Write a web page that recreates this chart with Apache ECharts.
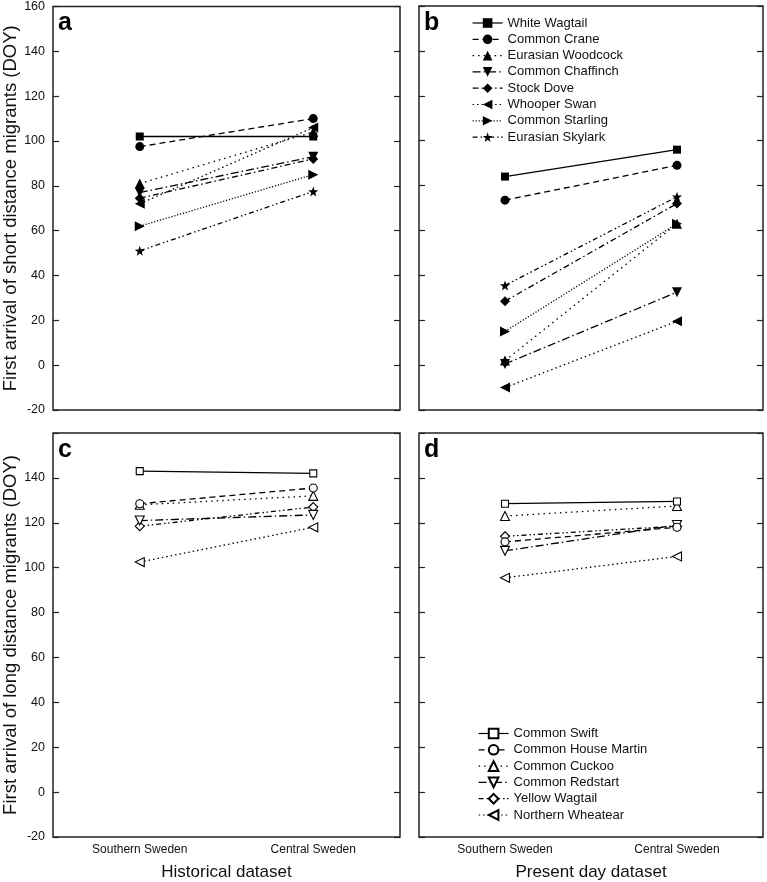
<!DOCTYPE html>
<html>
<head>
<meta charset="utf-8">
<script src="https://cdn.jsdelivr.net/npm/echarts@6/dist/echarts.min.js"></script>
<style>
html,body{margin:0;padding:0;background:#fff;}
#chart{width:767px;height:882px;}
</style>
</head>
<body>
<div id="chart"></div>
<script>
// ---- data ----
const categories = ['Southern Sweden', 'Central Sweden'];
const yTicks = [-20, 0, 20, 40, 60, 80, 100, 120, 140, 160];

const shortNames = ['White Wagtail', 'Common Crane', 'Eurasian Woodcock', 'Common Chaffinch',
  'Stock Dove', 'Whooper Swan', 'Common Starling', 'Eurasian Skylark'];
const histShortSouth   = [102, 97.5, 81, 77, 74.5, 72, 62, 51];
const histShortCentral = [102, 110, 104, 93, 92, 106, 85, 77.5];
const presShortSouth   = [84, 73.5, 2, 0.5, 28.5, -10, 15, 35.5];
const presShortCentral = [96, 89, 63, 32.5, 72, 19.5, 63, 75];

const longNames = ['Common Swift', 'Common House Martin', 'Common Cuckoo', 'Common Redstart',
  'Yellow Wagtail', 'Northern Wheatear'];
const histLongSouth   = [143, 128.5, 128, 121, 118.5, 102.5];
const histLongCentral = [142, 135.5, 132, 123.5, 127, 118];
const presLongSouth   = [128.5, 111.5, 123, 107.5, 114, 95.5];
const presLongCentral = [129.5, 118, 127.5, 119, 118.5, 105];

// ---- styles ----
const STAR = 'path://M0,-10 L2.35,-3.24 9.51,-3.09 3.8,1.24 5.88,8.09 0,4 -5.88,8.09 -3.8,1.24 -9.51,-3.09 -2.35,-3.24Z';
const shortStyle = [
  {symbol: 'rect', rot: 0, size: 8, dash: 'solid'},
  {symbol: 'circle', rot: 0, size: 9, dash: [6, 4]},
  {symbol: 'triangle', rot: 0, size: 10, dash: [1.5, 4]},
  {symbol: 'triangle', rot: 180, size: 10, dash: [8, 3, 1.5, 3]},
  {symbol: 'diamond', rot: 0, size: 10, dash: [6, 3, 1.5, 3]},
  {symbol: 'triangle', rot: 90, size: 10, dash: [1.5, 3]},
  {symbol: 'triangle', rot: -90, size: 10, dash: [1.2, 1.8]},
  {symbol: STAR, rot: 0, size: 10, dash: [5, 3, 1.5, 2.5, 1.5, 3]}
];
const longStyle = [
  {symbol: 'rect', rot: 0, size: 7, dash: 'solid'},
  {symbol: 'circle', rot: 0, size: 8, dash: [6, 4]},
  {symbol: 'triangle', rot: 0, size: 9, dash: [1.5, 4]},
  {symbol: 'triangle', rot: 180, size: 9, dash: [8, 3, 1.5, 3]},
  {symbol: 'diamond', rot: 0, size: 9, dash: [5, 3, 1.5, 2.5, 1.5, 3]},
  {symbol: 'triangle', rot: 90, size: 9, dash: [1.5, 3]}
];

const FONT = 'Liberation Sans, Arial, sans-serif';
const AX = '#222';

const grids = [
  {left: 53, top: 6, width: 347, height: 404},
  {left: 419, top: 6, width: 344, height: 404},
  {left: 53, top: 433, width: 347, height: 404},
  {left: 419, top: 433, width: 344, height: 404}
].map(g => Object.assign(g, {show: true, borderColor: AX, borderWidth: 1.5, backgroundColor: 'transparent'}));

const xNames = ['', '', 'Historical dataset', 'Present day dataset'];
const xAxis = grids.map((g, i) => ({
  type: 'category', gridIndex: i, data: categories, boundaryGap: true,
  axisLine: {show: false}, axisTick: {show: false},
  axisLabel: {show: i >= 2, fontFamily: FONT, fontSize: 12, color: '#111', margin: 7},
  name: xNames[i], nameLocation: 'middle', nameGap: 27,
  nameTextStyle: {fontFamily: FONT, fontSize: 17, color: '#111'}
}));

const yNames = ['First arrival of short distance migrants (DOY)', '',
  'First arrival of long distance migrants (DOY)', ''];
const yAxis = [];
grids.forEach((g, i) => {
  yAxis.push({
    type: 'value', gridIndex: i, position: 'left', min: yTicks[0], max: yTicks[yTicks.length - 1], interval: 20,
    axisLine: {show: false}, splitLine: {show: false},
    axisTick: {show: true, inside: true, length: 6, lineStyle: {color: AX, width: 1.2}},
    axisLabel: {
      show: i % 2 === 0, fontFamily: FONT, fontSize: 12.5, color: '#111', margin: 8,
      formatter: v => (i === 2 && v === 160) ? '' : String(v)
    },
    name: yNames[i], nameLocation: 'middle', nameGap: 33,
    nameTextStyle: {fontFamily: FONT, fontSize: 18.5, color: '#111'}
  });
  yAxis.push({
    type: 'value', gridIndex: i, position: 'right', min: yTicks[0], max: yTicks[yTicks.length - 1], interval: 20,
    axisLine: {show: false}, splitLine: {show: false},
    axisTick: {show: true, inside: true, length: 6, lineStyle: {color: AX, width: 1.2}},
    axisLabel: {show: false}
  });
});

function makeSeries(names, styles, south, central, panel, open) {
  return names.map((n, k) => ({
    type: 'line', name: n, xAxisIndex: panel, yAxisIndex: panel * 2,
    data: [south[k], central[k]],
    symbol: styles[k].symbol, symbolRotate: styles[k].rot, symbolSize: styles[k].size,
    showSymbol: true,
    lineStyle: {color: '#000', width: 1.3, type: styles[k].dash},
    itemStyle: open ? {color: '#fff', borderColor: '#000', borderWidth: 1.1} : {color: '#000', borderWidth: 0},
    emphasis: {disabled: true},
    z: 10 - k
  }));
}

const series = [].concat(
  makeSeries(shortNames, shortStyle, histShortSouth, histShortCentral, 0, false),
  makeSeries(shortNames, shortStyle, presShortSouth, presShortCentral, 1, false),
  makeSeries(longNames, longStyle, histLongSouth, histLongCentral, 2, true),
  makeSeries(longNames, longStyle, presLongSouth, presLongCentral, 3, true)
);

const letters = ['a', 'b', 'c', 'd'];
const title = letters.map((t, i) => ({
  text: t, left: grids[i].left + 5, top: grids[i].top + 5,
  textStyle: {fontFamily: FONT, fontSize: 25, fontWeight: 'bold', color: '#000'}, padding: 0
}));

const legendCommon = {
  orient: 'vertical', itemWidth: 30, itemHeight: 12, itemGap: 3.3, padding: 0,
  textStyle: {fontFamily: FONT, fontSize: 13, color: '#111', lineHeight: 12},
  lineStyle: {width: 1.2},
  selectedMode: false
};

const option = {
  animation: false,
  backgroundColor: '#fff',
  title: title,
  grid: grids,
  xAxis: xAxis,
  yAxis: yAxis,
  legend: [
    Object.assign({}, legendCommon, {data: shortNames, left: 472, top: 16.5}),
    Object.assign({}, legendCommon, {data: longNames, left: 478, top: 727})
  ],
  series: series
};

const chart = echarts.init(document.getElementById('chart'), null, {renderer: 'canvas'});
chart.setOption(option);
</script>
</body>
</html>
